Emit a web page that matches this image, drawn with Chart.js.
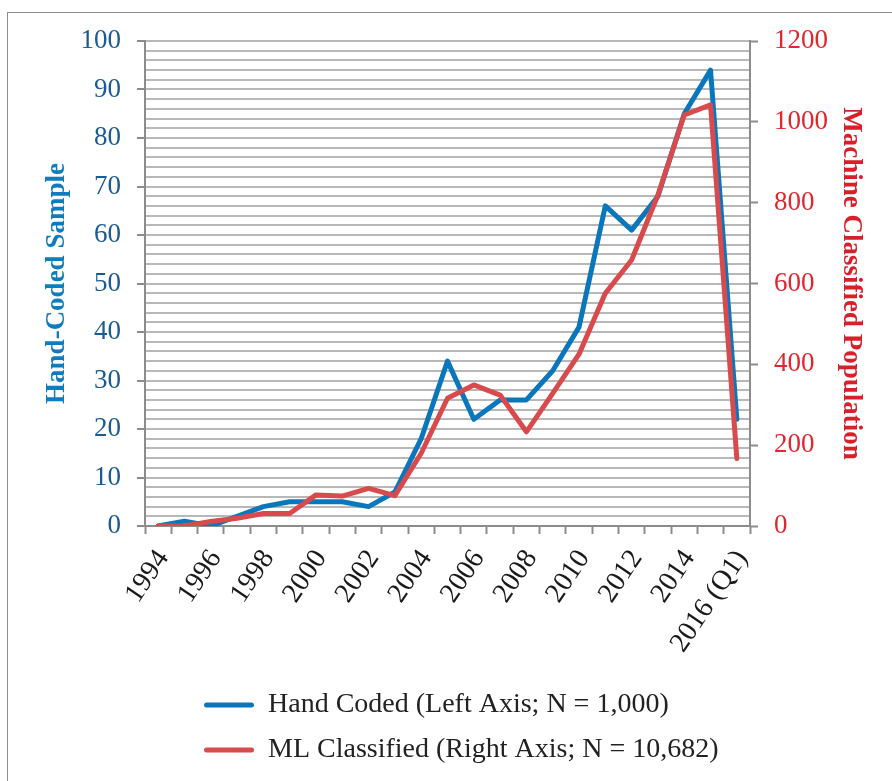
<!DOCTYPE html>
<html><head><meta charset="utf-8">
<script src="https://cdn.jsdelivr.net/npm/chart.js@4/dist/chart.umd.min.js"></script>
<style>
html,body{margin:0;padding:0;background:#fff;overflow:hidden;}
#frame{position:absolute;left:7px;top:12px;width:1000px;height:1000px;border:1.5px solid #8c8c8c;}
#wrap{position:absolute;left:0;top:0;width:892px;height:781px;}
</style></head><body>
<div id="frame"></div>
<div id="wrap"><canvas id="c"></canvas></div>
<script>
const years = ['1994','1995','1996','1997','1998','1999','2000','2001','2002','2003','2004','2005','2006','2007','2008','2009','2010','2011','2012','2013','2014','2015','2016 (Q1)'];
const handCoded = [0,1,0,2,4,5,5,5,4,7,18,34,22,26,26,32,41,66,61,68,85,94,22];
const mlClassified = [0,0,11,19,31,31,77,74,93,75,180,316,349,324,233,328,425,576,658,819,1017,1042,167];
const seriesNames = ['Hand Coded (Left Axis; N = 1,000)','ML Classified (Right Axis; N = 10,682)'];
const leftTitle = 'Hand-Coded Sample';
const rightTitle = 'Machine Classified Population';

const BLUE = '#0a77bd', RED = '#d94a4d';
const SERIF = "'Liberation Serif', 'DejaVu Serif', serif";

const legendShift = {
  id: 'legendShift',
  afterLayout(chart) {
    if (chart.legend) { chart.legend.left = 187; }
  }
};

new Chart(document.getElementById('c'), {
  type: 'line',
  data: {
    labels: years,
    datasets: [
      {label: seriesNames[0], data: handCoded, yAxisID: 'y', borderColor: BLUE, backgroundColor: BLUE, order: 2},
      {label: seriesNames[1], data: mlClassified, yAxisID: 'y1', borderColor: RED, backgroundColor: RED, order: 1}
    ]
  },
  plugins: [legendShift],
  options: {
    responsive: true, maintainAspectRatio: false, animation: false,
    layout: {padding: {top: 41, left: 20, right: 0, bottom: 7}},
    elements: {
      line: {borderWidth: 5, tension: 0, borderCapStyle: 'round', borderJoinStyle: 'round'},
      point: {radius: 0, hoverRadius: 0}
    },
    plugins: {
      tooltip: {enabled: false},
      legend: {
        position: 'bottom', align: 'start',
        labels: {
          font: {family: SERIF, size: 28}, color: '#222',
          boxWidth: 50, boxHeight: 5, padding: 17,
          useBorderRadius: true, borderRadius: 2.5,
          generateLabels: (chart) => chart.data.datasets.map((d, i) => ({
            text: d.label, fillStyle: d.borderColor, strokeStyle: d.borderColor,
            lineWidth: 0, datasetIndex: i, hidden: false, borderRadius: 2.5, fontColor: '#222'
          }))
        }
      }
    },
    scales: {
      x: {
        type: 'category', offset: true,
        grid: {offset: true, drawOnChartArea: false, tickColor: '#8c8c8c', tickWidth: 2, tickLength: 8},
        border: {color: '#8c8c8c', width: 2},
        ticks: {
          autoSkip: false, maxRotation: 56, minRotation: 56, padding: 10, labelOffset: 5,
          color: '#1a1a1a', font: {family: SERIF, size: 28},
          callback: function(v, i) { return i % 2 === 0 ? this.getLabelForValue(v) : ''; }
        },
        afterFit: (s) => { s.height = 148; }
      },
      y: {
        position: 'left', min: 0, max: 100,
        grid: {
          color: '#b8b8b8', lineWidth: 2, tickLength: 8, tickWidth: 2,
          tickColor: (ctx) => (ctx.tick && ctx.tick.value % 10 === 0) ? '#8c8c8c' : 'rgba(0,0,0,0)'
        },
        border: {color: '#8c8c8c', width: 2},
        ticks: {
          stepSize: 2, autoSkip: false, padding: 16,
          color: '#1b5a92', font: {family: SERIF, size: 27},
          callback: (v) => v % 10 === 0 ? String(v) : ''
        },
        title: {display: true, text: leftTitle, color: '#0f7cc0',
          font: {family: SERIF, size: 27, weight: 'bold'}, padding: {top: 21, bottom: 0}},
        afterFit: (s) => { s.width = 125; }
      },
      y1: {
        position: 'right', min: 0, max: 1200,
        grid: {drawOnChartArea: false, tickColor: '#8c8c8c', tickWidth: 2, tickLength: 8},
        border: {color: '#8c8c8c', width: 2},
        ticks: {stepSize: 200, padding: 16, color: '#e0262e', font: {family: SERIF, size: 27},
          callback: (v) => String(v)},
        title: {display: true, text: rightTitle, color: '#d9202a',
          font: {family: SERIF, size: 27, weight: 'bold'}, padding: {top: 25, bottom: 0}},
        afterFit: (s) => { s.width = 142; }
      }
    }
  }
});
</script>
</body></html>
